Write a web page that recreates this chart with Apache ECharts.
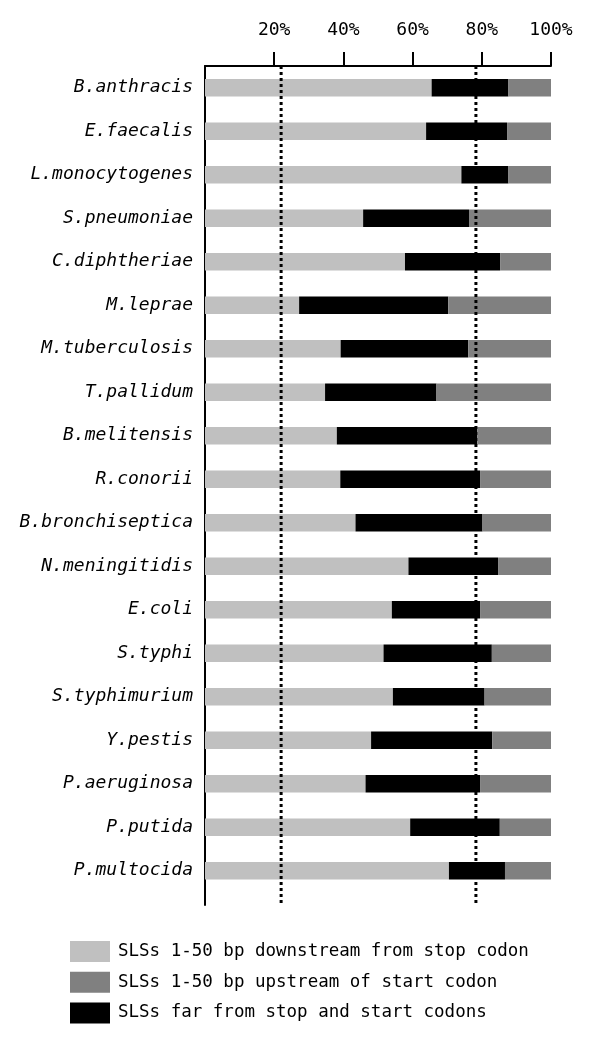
<!DOCTYPE html>
<html>
<head>
<meta charset="utf-8">
<script src="https://cdn.jsdelivr.net/npm/echarts@6/dist/echarts.min.js"></script>
<style>html,body{margin:0;padding:0;background:#fff}#c{width:600px;height:1047px}</style>
</head>
<body>
<div id="c"></div>
<script>
const categories = ['B.anthracis','E.faecalis','L.monocytogenes','S.pneumoniae','C.diphtheriae','M.leprae','M.tuberculosis','T.pallidum','B.melitensis','R.conorii','B.bronchiseptica','N.meningitidis','E.coli','S.typhi','S.typhimurium','Y.pestis','P.aeruginosa','P.putida','P.multocida'];
const downstream = [65.5,63.9,74.1,45.7,57.8,27.2,39.2,34.7,38.1,39.1,43.5,58.8,54.0,51.6,54.3,48.0,46.4,59.3,70.5];
const farCodons  = [22.2,23.4,13.6,30.6,27.5,43.1,36.9,32.2,40.6,40.4,36.7,25.9,25.5,31.3,26.5,35.0,33.1,25.9,16.2];
const upstream   = [12.3,12.7,12.3,23.7,14.7,29.7,23.9,33.1,21.3,20.5,19.8,15.3,20.5,17.1,19.2,17.0,20.5,14.8,13.3];
const tickValues = [20,40,60,80,100];
const refLines = [22, 78.3];
const seriesNames = ['SLSs 1-50 bp downstream from stop codon','SLSs 1-50 bp upstream of start codon','SLSs far from stop and start codons'];

const FONT = 'DejaVu Sans Mono';
const chart = echarts.init(document.getElementById('c'), null, {renderer:'canvas'});

const dotSeries = refLines.map(v => ({
  type:'line', xAxisIndex:1, yAxisIndex:1, silent:true, symbol:'none',
  data:[[v,0],[v,1]],
  lineStyle:{color:'#000', width:3, type:[3,3]}, z:5
}));

chart.setOption({
  animation:false,
  backgroundColor:'#fff',
  grid:[
    {left:205, right:49, top:66, height:826.5, containLabel:false},
    {left:205, right:49, top:66, height:839, containLabel:false}
  ],
  xAxis:[
    {type:'value', gridIndex:0, position:'top', min:0, max:100, interval:20,
     axisLine:{show:true, lineStyle:{color:'#000', width:2}},
     axisTick:{show:true, inside:false, length:14, customValues:tickValues, lineStyle:{color:'#000', width:2}},
     axisLabel:{show:true, customValues:tickValues, margin:27, color:'#000', fontFamily:FONT, fontSize:18, formatter: v => v + '%'},
     splitLine:{show:false}},
    {type:'value', gridIndex:1, min:0, max:100, show:false}
  ],
  yAxis:[
    {type:'category', gridIndex:0, inverse:true, data:categories,
     axisLine:{show:false}, axisTick:{show:false},
     axisLabel:{margin:12, color:'#000', fontFamily:FONT, fontStyle:'italic', fontSize:18}},
    {type:'value', gridIndex:1, min:0, max:1, inverse:true,
     axisLine:{show:true, onZero:false, lineStyle:{color:'#000', width:2}},
     axisTick:{show:false}, axisLabel:{show:false}, splitLine:{show:false}}
  ],
  legend:{
    orient:'vertical', left:70, top:941, padding:0,
    itemWidth:40, itemHeight:21, itemGap:9.7, icon:'rect',
    data:[seriesNames[0], seriesNames[1], seriesNames[2]],
    textStyle:{color:'#000', fontFamily:FONT, fontSize:17.5, padding:[0,0,0,3]}
  },
  series:[
    {name:seriesNames[0], type:'bar', stack:'a', barWidth:17.5, data:downstream, itemStyle:{color:'#c0c0c0'}},
    {name:seriesNames[2], type:'bar', stack:'a', barWidth:17.5, data:farCodons, itemStyle:{color:'#000000'}},
    {name:seriesNames[1], type:'bar', stack:'a', barWidth:17.5, data:upstream, itemStyle:{color:'#808080'}},
    ...dotSeries
  ]
});
</script>
</body>
</html>
